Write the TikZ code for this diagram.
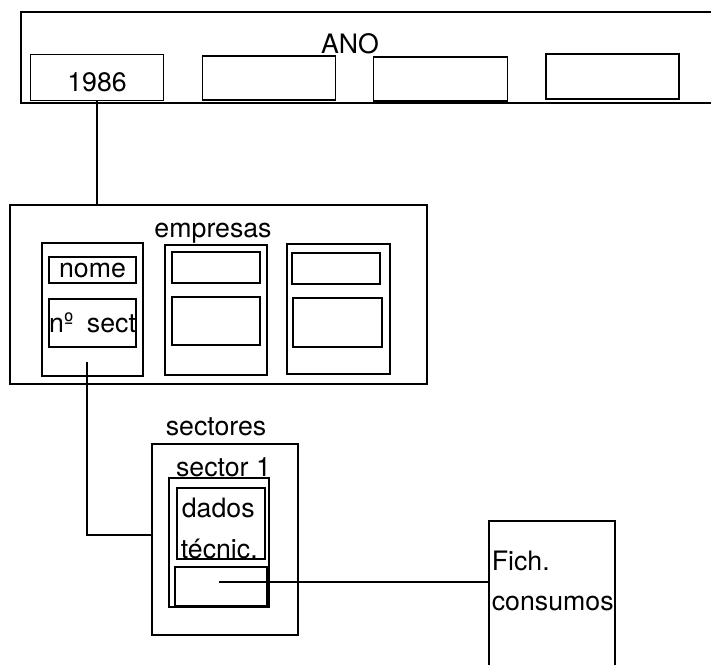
\documentclass[tikz,border=0pt]{standalone}
\usepackage{fontspec}
\setmainfont{TeX Gyre Heros}

\begin{document}
\begin{tikzpicture}[x=0.03cm,y=-0.03cm,line width=1.5pt,
 font=\fontsize{22.8}{35}\selectfont,
 bx/.style 2 args={draw,minimum width=#1*0.03cm,minimum height=#2*0.03cm,inner sep=0pt},
 lbl/.style={inner sep=0pt,anchor=base}]
\useasboundingbox (0,0) rectangle (711,664);
\clip (0,0) rectangle (711,664);
% ANO
\node[bx={719}{91}] (ano) at (380.5,57.5) {};
\node[lbl] (lAno) at (350,53) {ANO};
\node[bx={133}{46}] (y1) at (97,77.5) {};
\node[lbl] (lY1) at (97,91) {1986};
\node[bx={133}{44}] (y2) at (269,78) {};
\node[bx={134}{44}] (y3) at (440.5,79) {};
\node[bx={133}{45}] (y4) at (612.5,76.5) {};
% empresas
\node[bx={417}{179}] (emp) at (218.5,294.5) {};
\node[lbl] (lEmp) at (213,237) {empresas};
\node[bx={101}{133}] (e1) at (92.5,309.5) {};
\node[bx={102}{130}] (e2) at (216,310) {};
\node[bx={103}{130}] (e3) at (338.5,309) {};
\node[bx={87}{26}] (nome) at (92.5,270) {nome};
\node[bx={87}{48}] (nsect) at (92.5,323) {nº\enspace sect};
\node[bx={88}{31}] (e2a) at (216,267.5) {};
\node[bx={88}{48}] (e2b) at (216,321) {};
\node[bx={88}{31}] (e3a) at (336,268.5) {};
\node[bx={89}{49}] (e3b) at (337.5,322.5) {};
% sectores
\node[bx={146}{191}] (sec) at (225,539.5) {};
\node[lbl] (lSec) at (216,435) {sectores};
\node[bx={100}{129}] (s1) at (219,542.5) {};
\node[lbl] (lS1) at (223.5,476) {sector 1};
\node[bx={88}{71}] (dados) at (221,523.5) {};
\node[lbl,anchor=base west] (lDados) at (181,517) {dados};
\node[lbl,anchor=base west] (lTec) at (180,558) {técnic.};
\node[bx={92}{39}] (cons) at (221,586.5) {};
% Fich. consumos
\node[bx={126}{169}] (fich) at (552,605.5) {};
\node[lbl,anchor=base west] (lFich) at (491,570) {Fich.};
\node[lbl,anchor=base west] (lCons) at (491,610) {consumos};
% links
\coordinate (cE1) at (87,362);
\coordinate (cIn) at (219,582);
\draw (y1.south) -- (y1.south |- emp.north);
\draw (cE1) |- ([yshift=4pt]sec.west);
\draw (cIn) -- (cIn -| fich.west);
\end{tikzpicture}
\end{document}
